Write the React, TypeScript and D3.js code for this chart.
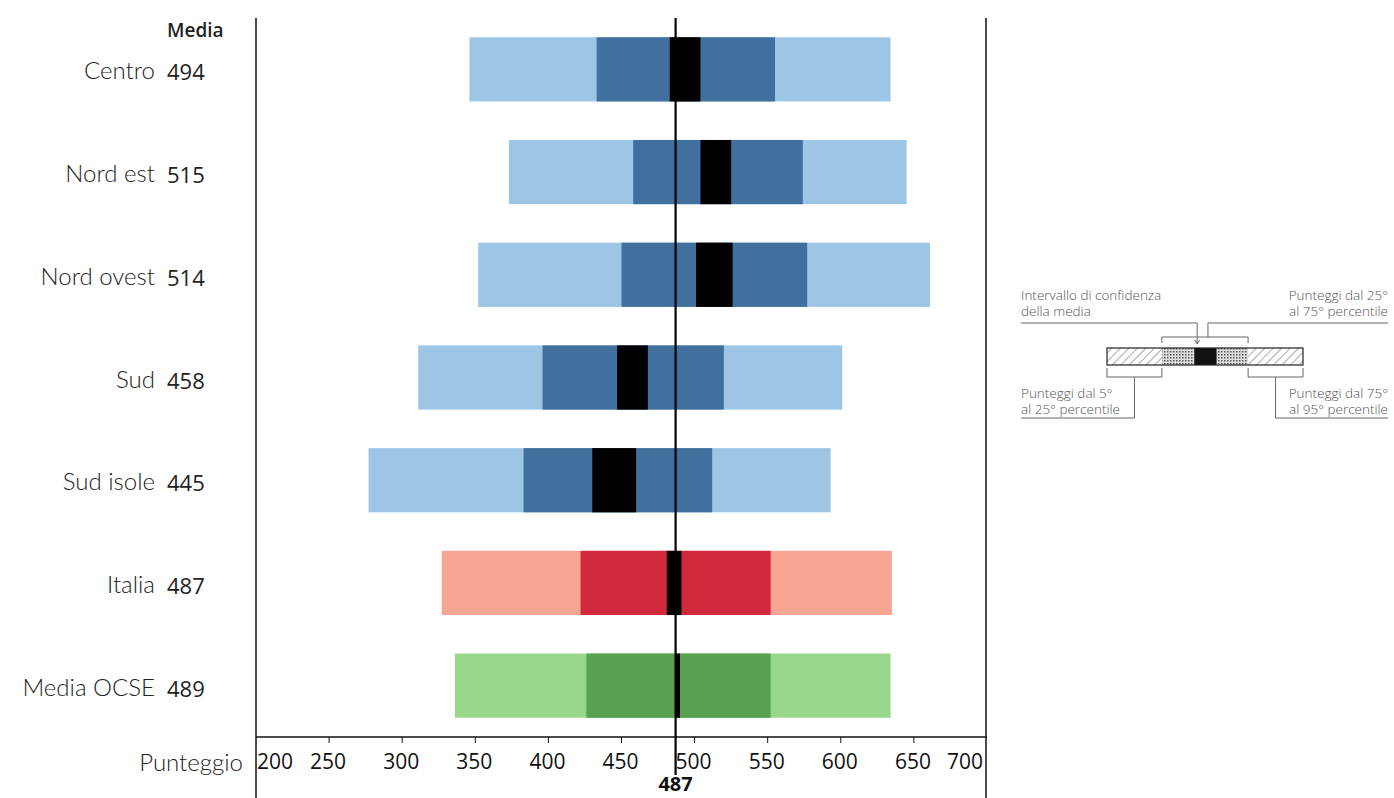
import React from "react";
import * as d3 from "d3";

// Percentile bands per area
const categories = ["Centro", "Nord est", "Nord ovest", "Sud", "Sud isole", "Italia", "Media OCSE"];
const means = [494, 515, 514, 458, 445, 487, 489];
const p5 = [346, 373, 352, 311, 277, 327, 336];
const p25 = [433, 458, 450, 396, 383, 422, 426];
const ciLow = [483, 504, 501, 447, 430, 481, 487];
const ciHigh = [504, 525, 526, 468, 460, 491, 490];
const p75 = [555, 574, 577, 520, 512, 552, 552];
const p95 = [634, 645, 661, 601, 593, 635, 634];
const groups = ["reg", "reg", "reg", "reg", "reg", "ita", "ocse"];
const ticks = [200, 250, 300, 350, 400, 450, 500, 550, 600, 650, 700];
const overallMean = 487;

const palette: Record<string, { light: string; dark: string }> = {
  reg: { light: "#9dc6e6", dark: "#41709f" },
  ita: { light: "#f8a594", dark: "#d22a3c" },
  ocse: { light: "#98d68a", dark: "#5aa051" },
};

const W = 1394;
const H = 798;
const top = 18;
const axisY = 737;

const x = d3.scaleLinear().domain([200, 700]).range([256, 987]);
const y = d3.scaleBand<string>().domain(categories).range([top, axisY]).paddingInner(0.375).paddingOuter(0.1875);

const labelFont = "Lato, 'Open Sans', sans-serif";
const numFont = "'Open Sans', sans-serif";

// end labels are kept inside the frame, the others are centred on the tick
function tickLabelPos(v: number) {
  if (v === 200) return { tx: x(v) + 1, anchor: "start" };
  if (v === 700) return { tx: x(v) - 4, anchor: "end" };
  return { tx: x(v) - 1, anchor: "middle" };
}

function Legend() {
  const lx = d3.scaleLinear().domain([0, 100]).range([1107, 1303]);
  const segs = [0, 28, 44.5, 56, 72, 100];
  const by = 348;
  const bh = 17;
  const txt = { fontFamily: "'Open Sans', sans-serif", fontSize: 13.5, fill: "#555", fontWeight: 300 } as const;
  const stroke = { stroke: "#666", strokeWidth: 1, fill: "none" } as const;
  return (
    <g>
      <defs>
        <pattern id="hatch" width="6" height="6" patternUnits="userSpaceOnUse" patternTransform="rotate(45)">
          <rect width="6" height="6" fill="#fff" />
          <line x1="0" y1="0" x2="0" y2="6" stroke="#555" strokeWidth="1" />
        </pattern>
        <pattern id="dots" width="3" height="3" patternUnits="userSpaceOnUse">
          <rect width="3" height="3" fill="#ddd" />
          <rect width="1.5" height="1.5" fill="#555" />
        </pattern>
      </defs>
      {segs.slice(0, -1).map((s, i) => (
        <rect
          key={i}
          x={lx(s)}
          y={by}
          width={lx(segs[i + 1]) - lx(s)}
          height={bh}
          fill={i === 2 ? "#111" : i === 0 || i === 4 ? "url(#hatch)" : "url(#dots)"}
        />
      ))}
      <rect x={lx(0)} y={by} width={lx(100) - lx(0)} height={bh} fill="none" stroke="#222" strokeWidth={1.2} />
      {/* top bracket */}
      <path d={`M${lx(28)},${by - 5} V337 H${lx(72)} V${by - 5}`} {...stroke} />
      <path d={`M1021,323 H${lx(46)} V343`} {...stroke} />
      <path d={`M${lx(46) - 2.5},340 L${lx(46)},344 L${lx(46) + 2.5},340`} {...stroke} />
      <path d={`M${lx(51.5)},337 V323 H1388`} {...stroke} />
      {/* bottom brackets */}
      <path d={`M${lx(0)},${by + bh + 3} V377 H${lx(28)} V${by + bh + 3}`} {...stroke} />
      <path d={`M${lx(14)},377 V418 H1021`} {...stroke} />
      <path d={`M${lx(72)},${by + bh + 3} V377 H${lx(100)} V${by + bh + 3}`} {...stroke} />
      <path d={`M${lx(86)},377 V418 H1388`} {...stroke} />
      <text x={1021} y={300} {...txt}>Intervallo di confidenza</text>
      <text x={1021} y={316} {...txt}>della media</text>
      <text x={1388} y={300} textAnchor="end" {...txt}>Punteggi dal 25°</text>
      <text x={1388} y={316} textAnchor="end" {...txt}>al 75° percentile</text>
      <text x={1021} y={398} {...txt}>Punteggi dal 5°</text>
      <text x={1021} y={414} {...txt}>al 25° percentile</text>
      <text x={1388} y={398} textAnchor="end" {...txt}>Punteggi dal 75°</text>
      <text x={1388} y={414} textAnchor="end" {...txt}>al 95° percentile</text>
    </g>
  );
}

export default function App() {
  const bw = y.bandwidth();
  return (
    <svg width={W} height={H} style={{ position: "absolute", left: 0, top: 0, background: "#fff" }}>
      <rect width={W} height={H} fill="#fff" />
      {/* bars */}
      {categories.map((c, i) => {
        const col = palette[groups[i]];
        const yy = y(c)!;
        return (
          <g key={c}>
            <rect x={x(p5[i])} y={yy} width={x(p95[i]) - x(p5[i])} height={bw} fill={col.light} />
            <rect x={x(p25[i])} y={yy} width={x(p75[i]) - x(p25[i])} height={bw} fill={col.dark} />
            <rect x={x(ciLow[i])} y={yy} width={x(ciHigh[i]) - x(ciLow[i])} height={bw} fill="#000" />
            <text x={155} y={yy + bw / 2 + 10} textAnchor="end" fontFamily={labelFont} fontWeight={300} fontSize={24} fill="#222">
              {c}
            </text>
            <text x={167} y={yy + bw / 2 + 11} fontFamily={numFont} fontSize={22} fill="#222">
              {means[i]}
            </text>
          </g>
        );
      })}
      <text x={167} y={37} fontFamily={numFont} fontWeight={600} fontSize={19} fill="#222">
        Media
      </text>
      {/* frame */}
      <line x1={x(200)} x2={x(200)} y1={top} y2={H} stroke="#111" strokeWidth={1.5} />
      <line x1={x(700) - 1} x2={x(700) - 1} y1={top} y2={H} stroke="#111" strokeWidth={1.5} />
      <line x1={x(200)} x2={x(700)} y1={axisY} y2={axisY} stroke="#111" strokeWidth={1.5} />
      {ticks.map((t) => {
        const { tx, anchor } = tickLabelPos(t);
        return (
          <g key={t}>
            {t > 200 && t < 700 && <line x1={x(t)} x2={x(t)} y1={axisY} y2={axisY + 6} stroke="#111" strokeWidth={1} />}
            <text x={tx} y={769} textAnchor={anchor as any} fontFamily={numFont} fontWeight={500} fontSize={21} fill="#111">
              {t}
            </text>
          </g>
        );
      })}
      <text x={243} y={771} textAnchor="end" fontFamily={labelFont} fontWeight={300} fontSize={24} fill="#222">
        Punteggio
      </text>
      {/* overall mean line */}
      <line x1={x(overallMean)} x2={x(overallMean)} y1={top} y2={775} stroke="#000" strokeWidth={2.2} />
      <text x={x(overallMean)} y={791} textAnchor="middle" fontFamily={numFont} fontWeight={700} fontSize={20} fill="#111">
        {overallMean}
      </text>
      <Legend />
    </svg>
  );
}
